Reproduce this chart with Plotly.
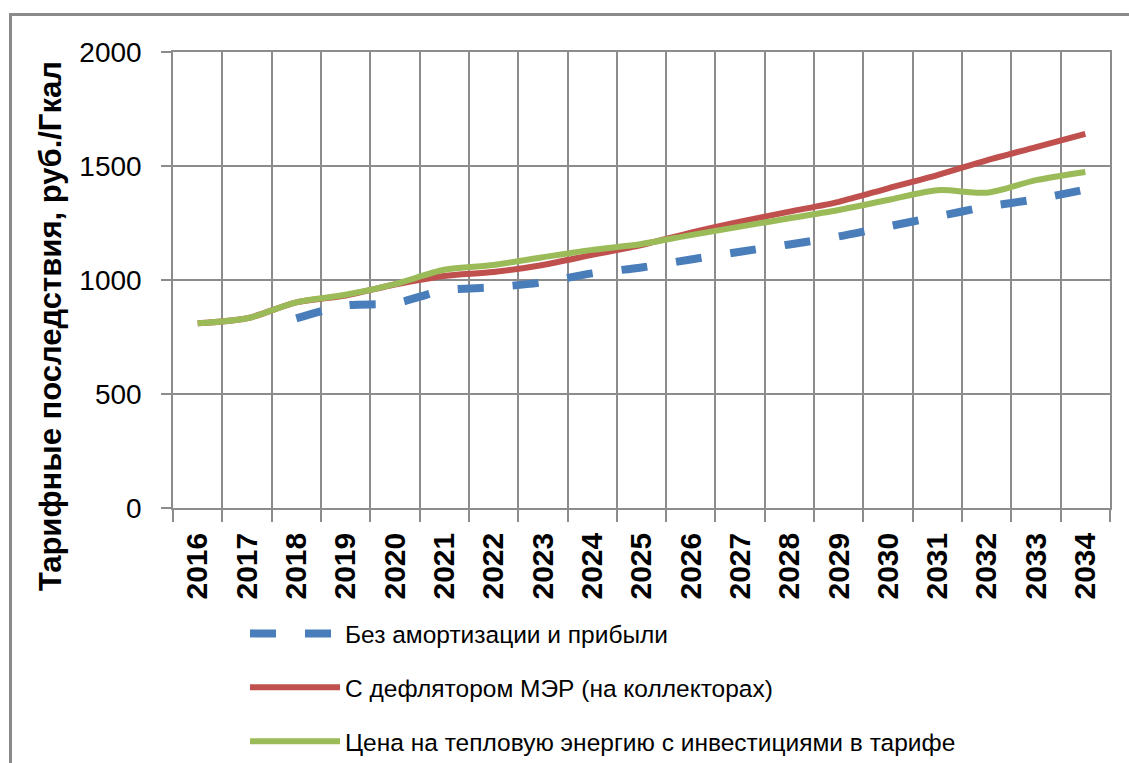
import plotly.graph_objects as go

# Years on the category axis
years = [str(y) for y in range(2016, 2035)]

# Tariff consequence scenarios, rub./Gcal
no_depreciation = [None, None, 832, 888, 898, 955, 968, 990, 1029, 1055,
                   1090, 1124, 1156, 1191, 1235, 1278, 1322, 1354, 1397]
mer_deflator = [810, 832, 902, 932, 980, 1018, 1035, 1066, 1110, 1153,
                1208, 1256, 1300, 1343, 1402, 1460, 1525, 1583, 1641]
with_investments = [810, 832, 902, 935, 982, 1045, 1066, 1100, 1132, 1158,
                    1197, 1234, 1271, 1307, 1351, 1394, 1383, 1438, 1474]

names = [
    "Без амортизации и прибыли",
    "С дефлятором МЭР (на коллекторах)",
    "Цена на тепловую энергию с инвестициями в тарифе",
]
y_title = "Тарифные последствия, руб./Гкал"
y_ticks = [0, 500, 1000, 1500, 2000]

W, H = 1129, 763
L, R, T, B = 173, 19, 52, 255
pw, ph = W - L - R, H - T - B

def px_x(x):
    return (x - L) / pw

def px_y(y):
    return (H - B - y) / ph

grid = "#8c8c8c"

fig = go.Figure()
fig.add_trace(go.Scatter(
    x=years, y=no_depreciation, name=names[0], mode="lines",
    line=dict(color="#4A7EBB", width=8, dash="26px,29px", shape="spline", smoothing=0.8),
    legendgroup="a",
))
fig.add_trace(go.Scatter(
    x=years, y=mer_deflator, name=names[1], mode="lines",
    line=dict(color="#C0504D", width=6, shape="spline", smoothing=0.8),
    legendgroup="b",
))
fig.add_trace(go.Scatter(
    x=years, y=with_investments, name=names[2], mode="lines",
    line=dict(color="#9BBB59", width=6, shape="spline", smoothing=0.8),
    legendgroup="c",
))

fig.update_layout(
    width=W, height=H,
    margin=dict(l=L, r=R, t=T, b=B, autoexpand=False),
    paper_bgcolor="white", plot_bgcolor="white",
    font=dict(family="Liberation Sans", color="black"),
    showlegend=True,
    legend=dict(
        x=px_x(245), y=px_y(611), xanchor="left", yanchor="top",
        orientation="v", itemwidth=90, tracegroupgap=19,
        font=dict(family="Liberation Sans", size=24.5, color="black"),
        bgcolor="rgba(0,0,0,0)",
    ),
    xaxis=dict(
        type="category", tickson="boundaries", range=[-0.5, len(years) - 0.5],
        showgrid=True, gridcolor=grid, gridwidth=1.5,
        showline=True, linecolor=grid, linewidth=1.5, mirror=True,
        ticks="outside", ticklen=12, tickcolor=grid, tickwidth=1.5,
        tickangle=-90,
        tickfont=dict(family="Liberation Sans", size=30, weight="bold", color="black"),
        ticklabelstandoff=11,
    ),
    yaxis=dict(
        range=[0, 2000], tickvals=y_ticks,
        showgrid=True, gridcolor=grid, gridwidth=1.5,
        showline=True, linecolor=grid, linewidth=1.5, mirror=True,
        ticks="outside", ticklen=10, tickcolor=grid, tickwidth=1.5,
        tickfont=dict(family="Liberation Sans", size=28, color="black"),
        ticklabelstandoff=14, zeroline=False,
    ),
    annotations=[dict(
        text=y_title, textangle=-90, showarrow=False,
        xref="paper", yref="paper", x=px_x(50), y=px_y(326),
        xanchor="center", yanchor="middle",
        font=dict(family="Liberation Sans", size=31, weight="bold", color="black"),
    )],
    shapes=[dict(
        type="rect", xref="paper", yref="paper",
        x0=px_x(10.5), x1=px_x(W + 20), y0=px_y(H + 20), y1=px_y(14.5),
        line=dict(color="#8a8a8a", width=3), fillcolor="rgba(0,0,0,0)", layer="below",
    )],
)

fig.write_html("out.html")
